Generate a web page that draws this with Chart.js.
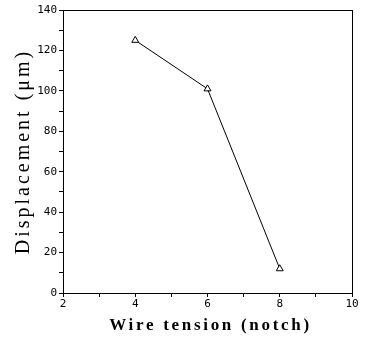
<!DOCTYPE html>
<html>
<head>
<meta charset="utf-8">
<script src="https://cdn.jsdelivr.net/npm/chart.js@4"></script>
<style>
  html, body { margin: 0; padding: 0; background: #fff; }
  #wrap { width: 366px; height: 340px; }
</style>
</head>
<body>
<div id="wrap"><canvas id="dispChart" width="366" height="340"></canvas></div>
<script>
// Measured displacement vs wire tension setting
const tension = [4, 6, 8];
const displacement = [125, 101, 12];

const xTicks = [2, 4, 6, 8, 10];
const yTicks = [0, 20, 40, 60, 80, 100, 120, 140];

const xTitle = 'Wire tension (notch)';
const yTitle = 'Displacement (\u03bcm)';

const tickFont = { family: 'DejaVu Sans Mono', size: 11 };

// Box around the plot area plus spaced-out axis titles
const frame = {
    id: 'frame',
    afterDatasetsDraw(chart) {
        const { ctx, chartArea: a } = chart;
        ctx.save();
        ctx.strokeStyle = '#000';
        ctx.lineWidth = 1;
        ctx.strokeRect(Math.round(a.left) + 0.5, Math.round(a.top) + 0.5,
            Math.round(a.right - a.left), Math.round(a.bottom - a.top));
        ctx.restore();
    },
    afterDraw(chart) {
        const { ctx, chartArea: a } = chart;
        ctx.save();
        ctx.fillStyle = '#000';
        ctx.textAlign = 'center';
        ctx.textBaseline = 'alphabetic';

        ctx.font = 'bold 17px "Liberation Serif"';
        ctx.letterSpacing = '2.7px';
        ctx.fillText(xTitle, (a.left + a.right) / 2 + 3, 330);

        ctx.font = '20px "Liberation Serif"';
        ctx.letterSpacing = '3px';
        ctx.translate(29, (a.top + a.bottom) / 2);
        ctx.rotate(-Math.PI / 2);
        ctx.fillText(yTitle, 0, 0);
        ctx.restore();
    }
};

new Chart(document.getElementById('dispChart'), {
    type: 'line',
    data: {
        datasets: [{
            data: tension.map((t, i) => ({ x: t, y: displacement[i] })),
            borderColor: '#000',
            borderWidth: 1,
            backgroundColor: '#fff',
            pointStyle: 'triangle',
            pointRadius: 4,
            pointBorderColor: '#000',
            pointBorderWidth: 1,
            pointBackgroundColor: '#fff',
            tension: 0
        }]
    },
    options: {
        responsive: false,
        animation: false,
        layout: { padding: { top: 10, right: 14, left: 4, bottom: 4 } },
        plugins: { legend: { display: false }, tooltip: { enabled: false } },
        scales: {
            x: {
                type: 'linear',
                min: 2, max: 10,
                afterBuildTicks(scale) {
                    scale.ticks = [];
                    for (let v = 2; v <= 10; v++) scale.ticks.push({ value: v });
                },
                afterFit(scale) { scale.height = 43; },
                border: { display: false },
                grid: { drawOnChartArea: false, tickLength: 4, color: '#000' },
                ticks: {
                    color: '#000', font: tickFont, padding: 1, maxRotation: 0,
                    autoSkip: false,
                    callback: v => xTicks.includes(v) ? String(v) : ''
                }
            },
            y: {
                min: 0, max: 140,
                afterBuildTicks(scale) {
                    scale.ticks = [];
                    for (let v = 0; v <= 140; v += 10) scale.ticks.push({ value: v });
                },
                afterFit(scale) { scale.width = 59; },
                border: { display: false },
                grid: { drawOnChartArea: false, tickLength: 4, color: '#000' },
                ticks: {
                    color: '#000', font: tickFont, padding: 2, autoSkip: false,
                    callback: v => yTicks.includes(v) ? String(v) : ''
                }
            }
        }
    },
    plugins: [frame]
});
</script>
</body>
</html>
